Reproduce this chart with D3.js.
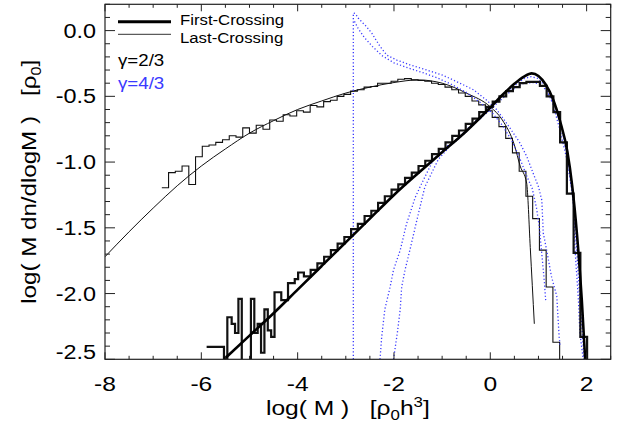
<!DOCTYPE html>
<html><head><meta charset="utf-8">
<script src="https://cdn.jsdelivr.net/npm/d3@7"></script>
<style>body{margin:0;background:#fff}svg{display:block}text{white-space:pre}</style>
</head><body><svg id="c" width="619" height="430"></svg>
<script>
// ---------------- data ----------------
const xDomain = [-8, 2.5];
const yDomain = [-2.5, 0.2];
const xMajorTicks = [-8, -6, -4, -2, 0, 2];
const yMajorTicks = [0.0, -0.5, -1.0, -1.5, -2.0, -2.5];
const xTickLabels = ["-8", "-6", "-4", "-2", "0", "2"];
const yTickLabels = ["0.0", "-0.5", "-1.0", "-1.5", "-2.0", "-2.5"];
const legendLabels = ["First-Crossing", "Last-Crossing"];
const gammaLabels = ["\u03b3=2/3", "\u03b3=4/3"];

// Last-crossing, gamma=2/3: theory curve (thin)
const lastTheoryX = [-8, -7.5, -7, -6.5, -6, -5.5, -5, -4.5, -4, -3.5, -3, -2.5, -2, -1.5, -1, -0.5, 0, 0.25, 0.5, 0.62, 0.755, 0.83, 0.914];
const lastTheoryY = [-1.72, -1.53, -1.35, -1.18, -1.03, -0.90, -0.78, -0.685, -0.60, -0.535, -0.475, -0.43, -0.395, -0.375, -0.40, -0.475, -0.58, -0.68, -0.87, -1.03, -1.16, -1.65, -2.23];

// First-crossing, gamma=2/3: theory curve (thick)
const firstTheoryX = [-5.53, -5, -4.5, -4, -3.5, -3, -2.5, -2, -1.5, -1, -0.5, 0, 0.25, 0.5, 0.7, 0.86, 1.0, 1.15, 1.3, 1.45, 1.6, 1.7, 1.8, 1.9, 1.97];
const firstTheoryY = [-2.5, -2.32, -2.15, -1.97, -1.79, -1.61, -1.43, -1.25, -1.085, -0.925, -0.765, -0.585, -0.49, -0.405, -0.35, -0.325, -0.345, -0.41, -0.52, -0.69, -0.92, -1.18, -1.55, -2.05, -2.5];

// Last-crossing histogram, gamma=2/3 (thin steps), bin edges
const lastHistEdges = d3.range(60).map(i => +(-6.82 + 0.14 * i).toFixed(2));
const lastHistY = [-1.195, -1.08, -1.07, -1.03, -1.17, -0.96, -0.88, -0.87, -0.85, -0.83,
  -0.80, -0.81, -0.74, -0.78, -0.72, -0.75, -0.68, -0.69, -0.64, -0.65,
  -0.61, -0.62, -0.57, -0.58, -0.54, -0.53, -0.50, -0.485, -0.46, -0.45,
  -0.43, -0.425, -0.40, -0.40, -0.385, -0.37, -0.365, -0.375, -0.38, -0.385,
  -0.40, -0.41, -0.43, -0.45, -0.475, -0.50, -0.535, -0.565, -0.61, -0.66,
  -0.73, -0.82, -0.93, -1.07, -1.26, -1.43, -1.67, -1.95, -2.37];

// First-crossing histogram, gamma=2/3 (thick steps): sparse low-mass part + regular part
const firstHistLowEdges = [-5.89, -5.53, -5.46, -5.37, -5.30, -5.23, -5.16, -4.97, -4.90, -4.83, -4.76, -4.69, -4.62, -4.55, -4.48, -4.34, -4.20, -4.06, -3.99, -3.87];
const firstHistLowY = [-2.405, -3, -2.18, -2.23, -2.30, -2.04, -3, -2.04, -2.30, -2.23, -2.45, -2.12, -2.28, -2.33, -1.99, -2.05, -1.92, -1.89, -1.84];
const firstHistEdges = d3.range(43).map(i => +(-3.87 + 0.14 * i).toFixed(2));
const firstHistY = [-1.87, -1.82, -1.77, -1.72, -1.67, -1.62, -1.57, -1.51, -1.47, -1.41,
  -1.37, -1.31, -1.26, -1.21, -1.17, -1.12, -1.08, -1.03, -0.99, -0.94,
  -0.90, -0.85, -0.80, -0.76, -0.71, -0.67, -0.62, -0.58, -0.54, -0.50,
  -0.46, -0.43, -0.40, -0.39, -0.39, -0.42, -0.50, -0.62, -0.85, -1.24,
  -1.69, -2.33];

// gamma=4/3 (blue dotted): last-crossing pair
const blueLastAX = [-2.844, -2.844, -2.80, -2.74, -2.64, -2.57, -2.46, -2.29, -2.15, -1.94, -1.67, -1.32, -0.98, -0.63, -0.35, -0.075, 0.13, 0.34, 0.48, 0.62, 0.76, 0.89, 1.0, 1.07, 1.10, 1.17, 1.27, 1.38, 1.43, 1.45];
const blueLastAY = [-2.5, 0.134, 0.129, 0.094, 0.056, 0.03, -0.02, -0.12, -0.186, -0.224, -0.26, -0.30, -0.34, -0.40, -0.45, -0.53, -0.60, -0.705, -0.78, -0.857, -0.96, -1.085, -1.187, -1.29, -1.54, -1.67, -1.87, -2.02, -2.33, -2.40];
const blueLastBX = [-2.82, -2.75, -2.62, -2.45, -2.25, -2.0, -1.7, -1.4, -1.1, -0.8, -0.5, -0.2, 0.05, 0.25, 0.45, 0.6, 0.75, 0.87, 0.96, 1.02, 1.07, 1.12, 1.15];
const blueLastBY = [0.07, 0.02, -0.05, -0.12, -0.19, -0.245, -0.285, -0.32, -0.36, -0.41, -0.47, -0.55, -0.63, -0.72, -0.84, -0.96, -1.10, -1.2, -1.35, -1.5, -1.7, -1.9, -2.05];
// gamma=4/3 (blue dotted): first-crossing pair
const blueFirstCX = [-2.29, -2.255, -2.19, -2.08, -2.01, -1.87, -1.74, -1.56, -1.46, -1.18, -0.905, -0.7, -0.4, 0, 0.3, 0.5, 0.7, 0.85, 1.0, 1.15, 1.3, 1.45, 1.59, 1.66, 1.725, 1.76, 1.83, 1.86, 1.93];
const blueFirstCY = [-2.5, -2.33, -2.12, -1.95, -1.82, -1.67, -1.47, -1.27, -1.19, -0.98, -0.88, -0.83, -0.72, -0.585, -0.48, -0.42, -0.365, -0.35, -0.365, -0.43, -0.56, -0.76, -0.98, -1.14, -1.29, -1.67, -2.05, -2.30, -2.5];
const blueFirstDX = [-2.01, -1.93, -1.87, -1.84, -1.77, -1.67, -1.53, -1.36, -1.08, -0.84, -0.65, -0.3, 0, 0.3, 0.5, 0.7, 0.9, 1.05, 1.2, 1.35, 1.5, 1.62, 1.72, 1.8, 1.87, 1.95];
const blueFirstDY = [-2.5, -2.3, -2.12, -1.95, -1.82, -1.67, -1.45, -1.19, -0.98, -0.88, -0.82, -0.7, -0.6, -0.5, -0.44, -0.40, -0.395, -0.41, -0.47, -0.58, -0.77, -1.0, -1.3, -1.7, -2.1, -2.5];

// ---------------- drawing ----------------
const W = 619, H = 430;
const M = {left: 105, top: 4.3, right: 610.7, bottom: 359.3};
const svg = d3.select("#c");
const x = d3.scaleLinear().domain(xDomain).range([M.left, M.right]);
const y = d3.scaleLinear().domain(yDomain).range([M.bottom, M.top]);
const BLUE = "#3a3aff";
const FONT = "'Liberation Sans', Arial, Helvetica, sans-serif";

svg.append("defs").append("clipPath").attr("id", "clip")
  .append("rect").attr("x", M.left).attr("y", M.top)
  .attr("width", M.right - M.left).attr("height", M.bottom - M.top);
const plot = svg.append("g").attr("clip-path", "url(#clip)");

const zip = (xs, ys) => xs.map((v, i) => [v, ys[i]]);
const lineLin = d3.line().x(d => x(d[0])).y(d => y(d[1])).defined(d => d[1] !== null);
const lineSmooth = d3.line().x(d => x(d[0])).y(d => y(d[1])).curve(d3.curveMonotoneX);

function histPoints(edges, vals, dropEnd) {
  const pts = [];
  vals.forEach((v, i) => { pts.push([edges[i], v]); pts.push([edges[i + 1], v]); });
  if (dropEnd) pts.push([edges[edges.length - 1], -3]);
  return pts;
}

// thin: last crossing 2/3
plot.append("path").attr("d", lineSmooth(zip(lastTheoryX, lastTheoryY)))
  .attr("fill", "none").attr("stroke", "#111").attr("stroke-width", 1);
plot.append("path").attr("d", lineLin(histPoints(lastHistEdges, lastHistY, true)))
  .attr("fill", "none").attr("stroke", "#111").attr("stroke-width", 1.1);

// blue dotted 4/3
[[blueLastAX, blueLastAY], [blueLastBX, blueLastBY], [blueFirstCX, blueFirstCY], [blueFirstDX, blueFirstDY]].forEach(([xs, ys]) => {
  plot.append("path").attr("d", lineLin(zip(xs, ys)))
    .attr("fill", "none").attr("stroke", BLUE).attr("stroke-width", 1.3)
    .attr("stroke-dasharray", "1.2,2.2");
});

// thick: first crossing 2/3
const lowPts = histPoints(firstHistLowEdges, firstHistLowY, false);
const mainPts = histPoints(firstHistEdges, firstHistY, true);
plot.append("path").attr("d", lineLin(lowPts.concat(mainPts)))
  .attr("fill", "none").attr("stroke", "#111").attr("stroke-width", 2.2);
plot.append("path").attr("d", lineSmooth(zip(firstTheoryX, firstTheoryY)))
  .attr("fill", "none").attr("stroke", "#000").attr("stroke-width", 2.6);

// ---------------- axes ----------------
const axG = svg.append("g");
axG.append("rect").attr("x", M.left).attr("y", M.top)
  .attr("width", M.right - M.left).attr("height", M.bottom - M.top)
  .attr("fill", "none").attr("stroke", "#222").attr("stroke-width", 1.2);

const xMinor = d3.range(xDomain[0], xDomain[1] + 0.001, 0.5);
const yMinor = d3.range(yDomain[0], yDomain[1] + 0.001, 0.1);
const isMajor = (v, arr) => arr.some(a => Math.abs(a - v) < 1e-6);
xMinor.forEach(v => {
  const L = isMajor(v, xMajorTicks) ? 7 : 3.5;
  axG.append("line").attr("x1", x(v)).attr("x2", x(v)).attr("y1", M.bottom).attr("y2", M.bottom - L).attr("stroke", "#222");
  axG.append("line").attr("x1", x(v)).attr("x2", x(v)).attr("y1", M.top).attr("y2", M.top + L).attr("stroke", "#222");
});
yMinor.forEach(v => {
  const L = isMajor(v, yMajorTicks) ? 10 : 5;
  axG.append("line").attr("y1", y(v)).attr("y2", y(v)).attr("x1", M.left).attr("x2", M.left + L).attr("stroke", "#222");
  axG.append("line").attr("y1", y(v)).attr("y2", y(v)).attr("x1", M.right).attr("x2", M.right - L).attr("stroke", "#222");
});

function txt(g, str, tx, ty, size, anchor, sx, color) {
  return g.append("text").attr("transform", `translate(${tx},${ty}) scale(${sx},1)`)
    .attr("text-anchor", anchor).attr("font-family", FONT).attr("font-size", size)
    .attr("fill", color || "#000").text(str);
}

xMajorTicks.forEach((v, i) => txt(axG, xTickLabels[i], x(v), 391, 20.5, "middle", 1.2));
yMajorTicks.forEach((v, i) => {
  const ty = Math.min(y(v), M.bottom - 7) + 7;
  txt(axG, yTickLabels[i], 96, ty, 19.5, "end", 1.2);
});

// axis titles
const xt = axG.append("text").attr("transform", `translate(${(M.left + M.right) / 2 - 10},415) scale(1.2,1)`)
  .attr("text-anchor", "middle").attr("font-family", FONT).attr("font-size", 20.5);
xt.append("tspan").text("log( M )   [\u03c1");
xt.append("tspan").attr("font-size", 14).attr("dy", 5).text("0");
xt.append("tspan").attr("dy", -5).text("h");
xt.append("tspan").attr("font-size", 14).attr("dy", -8).text("3");
xt.append("tspan").attr("dy", 8).text("]");

const yt = axG.append("text").attr("transform", `translate(36,${(M.top + M.bottom) / 2}) rotate(-90) scale(1.15,1)`)
  .attr("text-anchor", "middle").attr("font-family", FONT).attr("font-size", 21);
yt.append("tspan").text("log( M dn/dlogM )   [\u03c1");
yt.append("tspan").attr("font-size", 14).attr("dy", 5).text("0");
yt.append("tspan").attr("dy", -5).text("]");

// legend
const lg = svg.append("g");
lg.append("line").attr("x1", 118).attr("x2", 171).attr("y1", 21.7).attr("y2", 21.7).attr("stroke", "#000").attr("stroke-width", 3);
lg.append("line").attr("x1", 118).attr("x2", 171).attr("y1", 34.3).attr("y2", 34.3).attr("stroke", "#333").attr("stroke-width", 1);
txt(lg, legendLabels[0], 180, 25, 15.5, "start", 1.08);
txt(lg, legendLabels[1], 180, 42.5, 15.5, "start", 1.08);
txt(lg, gammaLabels[0], 118, 66, 17, "start", 1.1);
txt(lg, gammaLabels[1], 118, 89, 17, "start", 1.1, BLUE);
</script></body></html>
